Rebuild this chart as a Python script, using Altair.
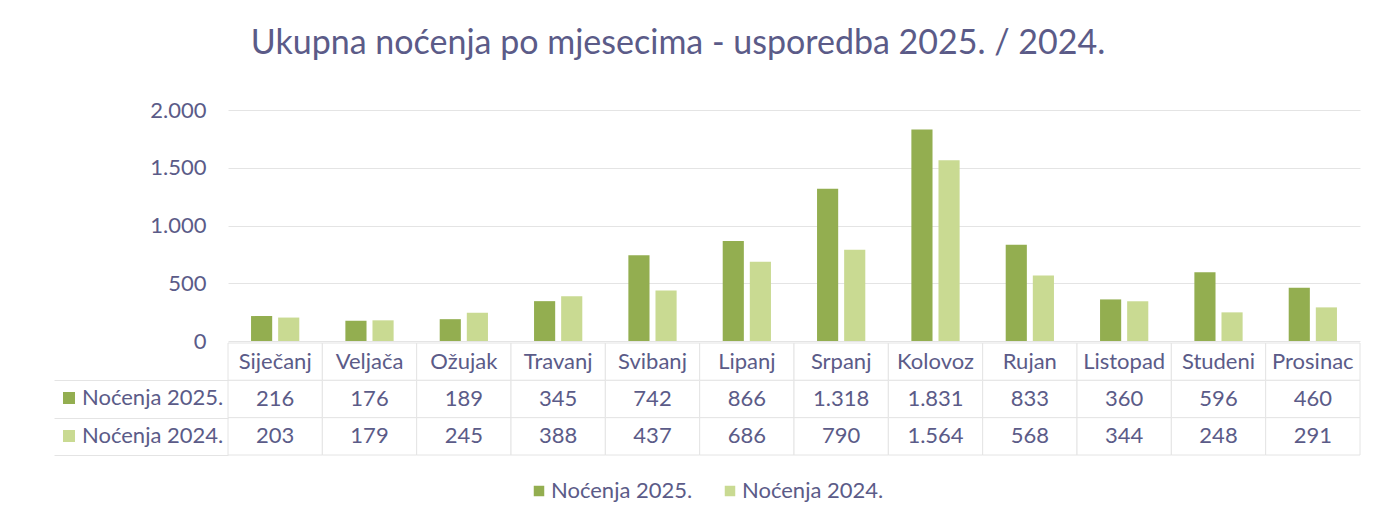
import altair as alt
import pandas as pd

months = ["Siječanj", "Veljača", "Ožujak", "Travanj", "Svibanj", "Lipanj",
          "Srpanj", "Kolovoz", "Rujan", "Listopad", "Studeni", "Prosinac"]
values_2025 = [216, 176, 189, 345, 742, 866, 1318, 1831, 833, 360, 596, 460]
values_2024 = [203, 179, 245, 388, 437, 686, 790, 1564, 568, 344, 248, 291]
series = ["Noćenja 2025.", "Noćenja 2024."]
colors = ["#93AE50", "#C9DA92"]
y_ticks = [0, 500, 1000, 1500, 2000]
title_text = "Ukupna noćenja po mjesecima - usporedba 2025. / 2024."

TEXT = "#5B5B88"
FONT = "Lato"
GRID = "#E4E4E4"
FS = 22

rows = []
for m, a, b in zip(months, values_2025, values_2024):
    rows.append({"month": m, "series": series[0], "value": a})
    rows.append({"month": m, "series": series[1], "value": b})
df = pd.DataFrame(rows)

row_order = ["hdr"] + series
hdr_df = pd.DataFrame({"month": months, "series": ["hdr"] * len(months)})
cells_df = pd.DataFrame([{"month": m, "series": r} for m in months for r in row_order])

xscale = alt.Scale(domain=months, paddingInner=0, paddingOuter=0)
cscale = alt.Scale(domain=series, range=colors)
x_enc = alt.X("month:N", scale=xscale, axis=None, sort=months)

bars = alt.Chart(df).mark_bar().encode(
    x=x_enc,
    xOffset=alt.XOffset("series:N", sort=series,
                        scale=alt.Scale(domain=series, paddingInner=0.22, paddingOuter=0.85)),
    y=alt.Y("value:Q", scale=alt.Scale(domain=[0, 2000]),
            axis=alt.Axis(values=y_ticks, format=",d", title=None, ticks=False, domain=False,
                          labelPadding=22, labelFontSize=FS, labelColor=TEXT, labelFont=FONT,
                          gridColor=GRID)),
    color=alt.Color("series:N", scale=cscale,
                    legend=alt.Legend(orient="none", legendX=300, legendY=370, direction="horizontal",
                                      title=None, symbolType="square", symbolSize=110,
                                      symbolStrokeWidth=0, labelFontSize=FS, labelColor=TEXT,
                                      labelFont=FONT, labelLimit=300, columnPadding=26,
                                      labelOffset=1, padding=0)),
).properties(width=1132, height=231)

y_tab = alt.Y("series:N", scale=alt.Scale(domain=row_order, paddingInner=0, paddingOuter=0),
              axis=alt.Axis(title=None, labels=False, domain=False, grid=False,
                            tickBand="extent", tickSize=174, tickWidth=1,
                            tickColor={"condition": {"test": "datum.extra", "value": "transparent"},
                                       "value": GRID}))

cells = alt.Chart(cells_df).mark_rect(fill="white", stroke=GRID, strokeWidth=1).encode(
    x=x_enc, y=y_tab)

hdr_text = alt.Chart(hdr_df).mark_text(fontSize=FS, color=TEXT, font=FONT).encode(
    x=x_enc, y=y_tab, text="month:N")

val_text = alt.Chart(df).mark_text(fontSize=FS, color=TEXT, font=FONT).encode(
    x=x_enc, y=y_tab, text=alt.Text("value:Q", format=",d"))

keys = alt.Chart(df).mark_square(size=0, opacity=1, filled=True).encode(
    x=x_enc, y=y_tab,
    color=alt.Color("series:N", scale=cscale,
                    legend=alt.Legend(orient="none", legendX=-170, legendY=44, direction="vertical",
                                      title=None, symbolType="square", symbolSize=144,
                                      symbolStrokeWidth=0, labelFontSize=FS, labelColor=TEXT,
                                      labelFont=FONT, labelLimit=300, rowPadding=16,
                                      labelOffset=2, padding=0)))

table = alt.layer(cells, hdr_text, val_text, keys).properties(width=1132, height=112)

chart = alt.vconcat(bars, table, spacing=2, bounds="flush").resolve_scale(color="independent").properties(
    title=alt.TitleParams(title_text, fontSize=34, font=FONT, color=TEXT, fontWeight="normal",
                          anchor="middle", offset=38, dx=-29),
    padding={"left": 45, "top": 18, "right": 5, "bottom": 5},
).configure(
    locale={"number": {"decimal": ",", "thousands": ".", "grouping": [3], "currency": ["", " €"]}},
    view=alt.ViewConfig(stroke="transparent"),
)

chart.save("out.html", embed_options={"renderer": "svg", "actions": False})
